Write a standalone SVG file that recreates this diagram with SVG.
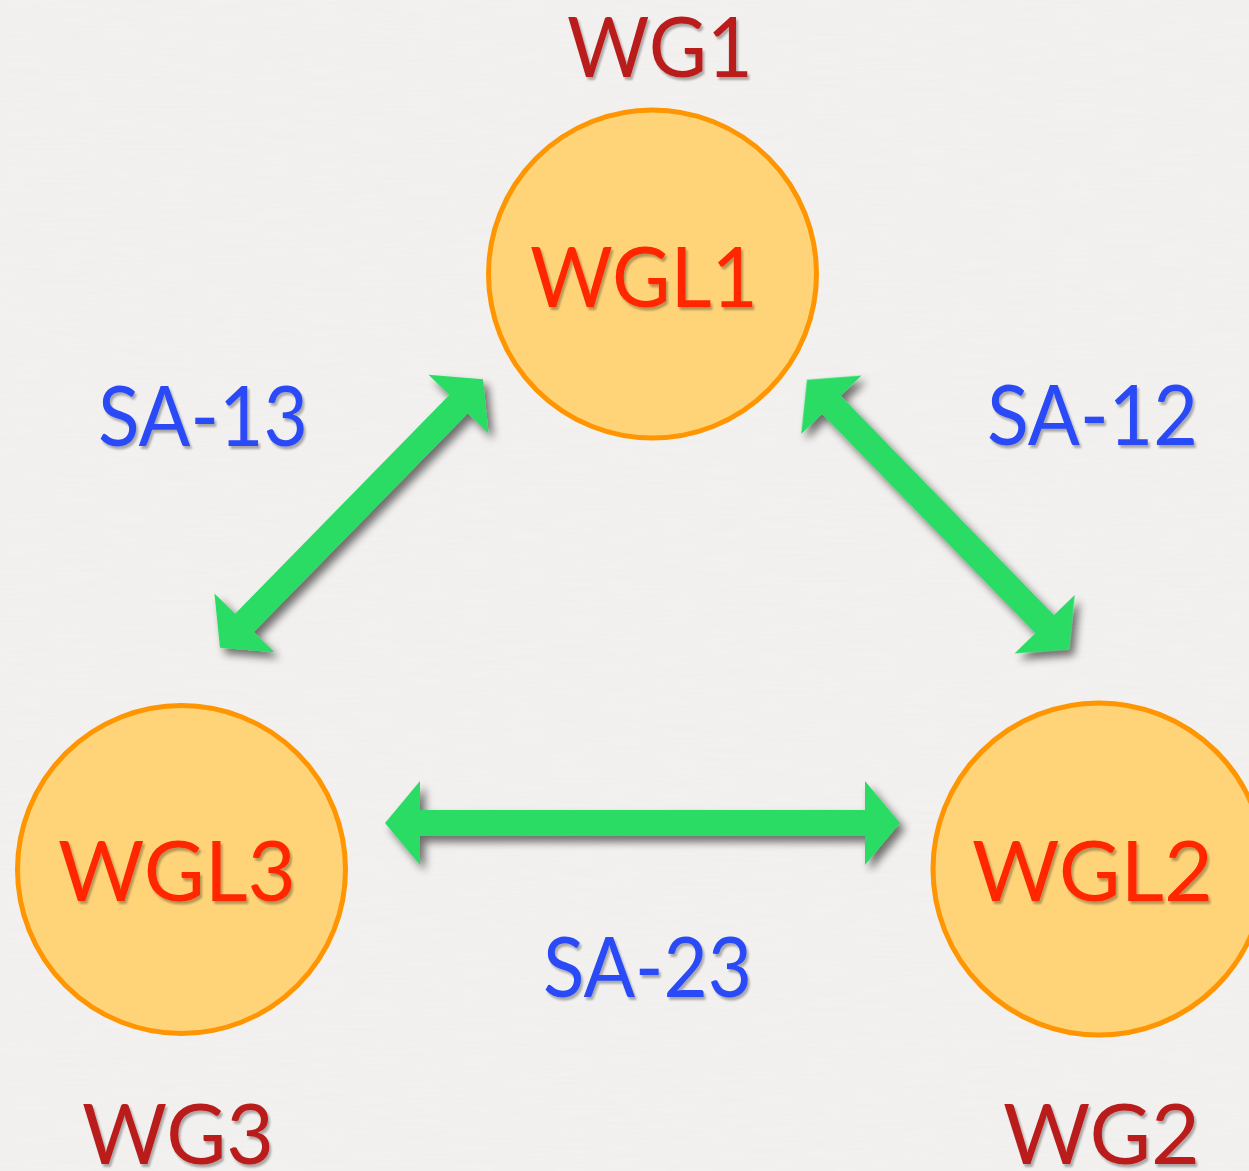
<svg xmlns="http://www.w3.org/2000/svg" width="1249" height="1171" viewBox="0 0 1249 1171">
  <defs>
    <filter id="paper" x="0" y="0" width="100%" height="100%">
      <feTurbulence type="fractalNoise" baseFrequency="0.02 0.35" numOctaves="3" seed="4" result="n"/>
      <feColorMatrix in="n" type="matrix" values="0 0 0 0 0.6  0 0 0 0 0.6  0 0 0 0 0.59  0 0 0 0.09 0"/>
    </filter>
    <filter id="arrowShadow" x="-20%" y="-20%" width="140%" height="140%">
      <feGaussianBlur in="SourceAlpha" stdDeviation="4"/>
      <feOffset dx="5" dy="6" result="b"/>
      <feComponentTransfer><feFuncA type="linear" slope="0.55"/></feComponentTransfer>
      <feMerge><feMergeNode/><feMergeNode in="SourceGraphic"/></feMerge>
    </filter>
    <filter id="textShadow" x="-10%" y="-10%" width="120%" height="130%">
      <feGaussianBlur in="SourceAlpha" stdDeviation="1.2"/>
      <feOffset dx="2" dy="3"/>
      <feComponentTransfer><feFuncA type="linear" slope="0.3"/></feComponentTransfer>
      <feMerge><feMergeNode/><feMergeNode in="SourceGraphic"/></feMerge>
    </filter>
    <path id="arrowH" d="M -257.5,0 L -222.5,-42 L -222.5,-13 L 222.5,-13 L 222.5,-42 L 257.5,0 L 222.5,42 L 222.5,13 L -222.5,13 L -222.5,42 Z"/>
    <path id="arrowD" d="M -188,0 L -153,-42 L -153,-13 L 153,-13 L 153,-42 L 188,0 L 153,42 L 153,13 L -153,13 L -153,42 Z"/>
  </defs>
  <style>
    .node circle { fill: #FFD479; stroke: #FF9500; stroke-width: 5; }
    text { font-family: "Lato", "Noto Sans", "Liberation Sans", sans-serif; font-size: 83px; filter: url(#textShadow); }
    .wgl { fill: #FF2600; }
    .wg { fill: #BA1E1E; }
    .sa { fill: #2A4AF7; }
    .arrow { fill: #2BDC64; }
  </style>
  <rect width="1249" height="1171" fill="#F3F2F0"/>
  <rect width="1249" height="1171" filter="url(#paper)"/>

  <g id="connectors" filter="url(#arrowShadow)">
    <use href="#arrowD" class="arrow" transform="translate(351.5 513.5) rotate(-45.6)"/>
    <use href="#arrowD" class="arrow" transform="translate(938 514.5) rotate(45.8)"/>
    <use href="#arrowH" class="arrow" transform="translate(642.5 823)"/>
  </g>

  <g id="node-wgl1" class="node">
    <circle cx="652.5" cy="274" r="164"/>
    <text class="wgl" x="530" y="307" textLength="228" lengthAdjust="spacingAndGlyphs">WGL1</text>
  </g>
  <g id="node-wgl3" class="node">
    <circle cx="181.5" cy="869.5" r="164"/>
    <text class="wgl" x="58" y="901" textLength="238" lengthAdjust="spacingAndGlyphs">WGL3</text>
  </g>
  <g id="node-wgl2" class="node">
    <circle cx="1099" cy="869" r="166"/>
    <text class="wgl" x="972" y="901" textLength="241" lengthAdjust="spacingAndGlyphs">WGL2</text>
  </g>

  <g id="labels">
    <text class="wg" x="567" y="77" textLength="186" lengthAdjust="spacingAndGlyphs">WG1</text>
    <text class="wg" x="82" y="1164" textLength="192" lengthAdjust="spacingAndGlyphs">WG3</text>
    <text class="wg" x="1003" y="1164" textLength="197" lengthAdjust="spacingAndGlyphs">WG2</text>
    <text class="sa" x="98" y="446" textLength="210" lengthAdjust="spacingAndGlyphs">SA-13</text>
    <text class="sa" x="987" y="445" textLength="211" lengthAdjust="spacingAndGlyphs">SA-12</text>
    <text class="sa" x="543" y="997" textLength="209" lengthAdjust="spacingAndGlyphs">SA-23</text>
  </g>
</svg>
